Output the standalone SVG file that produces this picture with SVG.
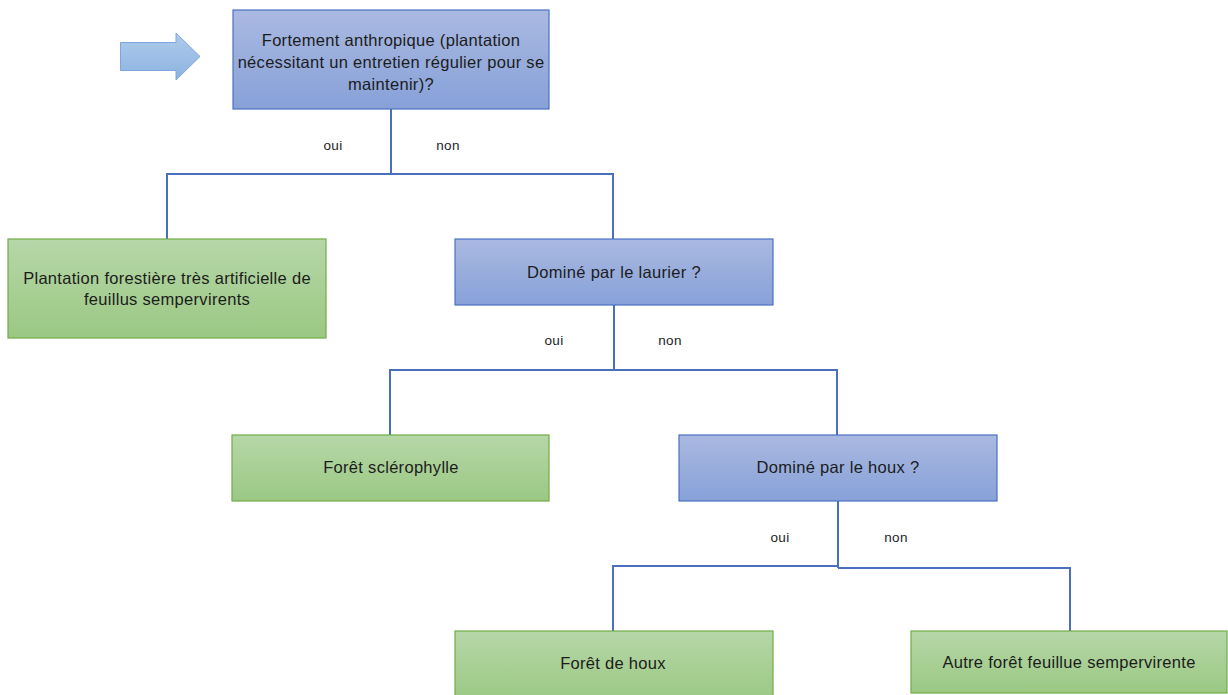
<svg xmlns="http://www.w3.org/2000/svg" width="1228" height="695" viewBox="0 0 1228 695">
<defs>
<linearGradient id="gb" x1="0" y1="0" x2="0" y2="1"><stop offset="0" stop-color="#aab9e1"/><stop offset="1" stop-color="#87a1d8"/></linearGradient>
<linearGradient id="gg" x1="0" y1="0" x2="0" y2="1"><stop offset="0" stop-color="#b6d7a8"/><stop offset="1" stop-color="#9bc883"/></linearGradient>
<linearGradient id="ga" x1="0" y1="0" x2="0" y2="1"><stop offset="0" stop-color="#aecbeb"/><stop offset="1" stop-color="#8db3e2"/></linearGradient>
</defs>
<style>
.q{fill:url(#gb);stroke:#4a72c4;stroke-width:1.2}
.r{fill:url(#gg);stroke:#70ad47;stroke-width:1.2}
.t{font-family:"Liberation Sans",Arial,sans-serif;font-size:16.5px;letter-spacing:0.3px;fill:#1c1c1c;text-anchor:middle}
.l{font-family:"Liberation Sans",Arial,sans-serif;font-size:13.5px;letter-spacing:0.3px;fill:#1c1c1c;text-anchor:middle}
.c{fill:none;stroke:#4a6fbf;stroke-width:2}
</style>
<g id="start-arrow"><path d="M120.5 42.5 H176 V33 L200 56.5 L176 80 V70.5 H120.5 Z" fill="url(#ga)" stroke="#7ea6dc" stroke-width="1"/></g>
<g id="connectors">
<path class="c" d="M391 109 V174 M167 239 V174 H613 V239"/>
<path class="c" d="M614 305 V370 M390 435 V370 H837 V435"/>
<path class="c" d="M838 501 V568 M613 631 V566 H838 M838 568 H1070 V631"/>
<text class="l" x="333" y="150">oui</text>
<text class="l" x="448" y="150">non</text>
<text class="l" x="554" y="345">oui</text>
<text class="l" x="670" y="345">non</text>
<text class="l" x="780" y="542">oui</text>
<text class="l" x="896" y="542">non</text>
</g>
<g id="n1"><rect class="q" x="233" y="10" width="316" height="99"/>
<text class="t" x="391" y="46">Fortement anthropique (plantation</text>
<text class="t" x="391" y="68">nécessitant un entretien régulier pour se</text>
<text class="t" x="391" y="90">maintenir)?</text></g>
<g id="n2"><rect class="r" x="8" y="239" width="318" height="99"/>
<text class="t" x="167" y="284">Plantation forestière très artificielle de</text>
<text class="t" x="167" y="305">feuillus sempervirents</text></g>
<g id="n3"><rect class="q" x="455" y="239" width="318" height="66"/>
<text class="t" x="614" y="278">Dominé par le laurier ?</text></g>
<g id="n4"><rect class="r" x="232" y="435" width="317" height="66"/>
<text class="t" x="391" y="473">Forêt sclérophylle</text></g>
<g id="n5"><rect class="q" x="679" y="435" width="318" height="66"/>
<text class="t" x="838" y="473">Dominé par le houx ?</text></g>
<g id="n6"><rect class="r" x="455" y="631" width="318" height="70"/>
<text class="t" x="613" y="669">Forêt de houx</text></g>
<g id="n7"><rect class="r" x="911" y="631" width="316" height="62"/>
<text class="t" x="1069" y="668">Autre forêt feuillue sempervirente</text></g>
</svg>
